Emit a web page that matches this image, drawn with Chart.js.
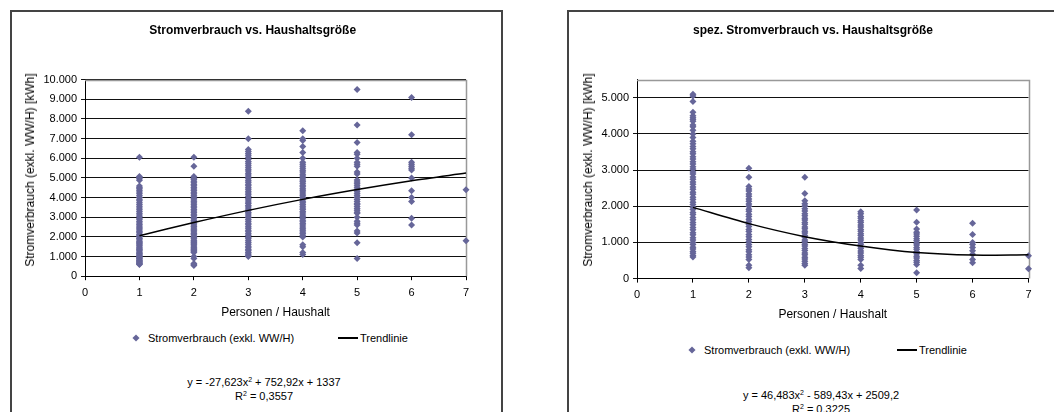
<!DOCTYPE html>
<html>
<head>
<meta charset="utf-8">
<script src="https://cdn.jsdelivr.net/npm/chart.js@4"></script>
<style>
  body { margin: 0; width: 1054px; height: 412px; overflow: hidden; background: #fff;
         font-family: "Liberation Sans", Arial, sans-serif; color: #000; position: relative; }
  .box { position: absolute; top: 10px; height: 420px; border: 2px solid #444; box-sizing: border-box; }
  canvas { position: absolute; }
  .ytitle { position: absolute; font-size: 12px; white-space: nowrap; line-height: 14px;
            transform: translate(-50%, -50%) rotate(-90deg); }
  .legend { position: absolute; font-size: 11px; line-height: 14px; white-space: nowrap; }
  .diamond { position: absolute; width: 5px; height: 5px; background: #666699; transform: translate(-50%, -50%) rotate(45deg); }
  .lline { position: absolute; height: 2px; background: #000; }
  .eq { position: absolute; font-size: 11px; line-height: 14px; white-space: nowrap; transform: translateX(-50%); text-align: center; }
  .eq sup { font-size: 7px; vertical-align: 4px; line-height: 0; }
</style>
</head>
<body>
<div class="box" style="left:10px; width:493px;"></div>
<div class="box" style="left:567px; width:500px;"></div>

<canvas id="chartLeft" width="488" height="310" style="left:12px; top:12px;"></canvas>
<canvas id="chartRight" width="485" height="312" style="left:569px; top:12px;"></canvas>

<div class="ytitle" style="left:30px; top:170px;">Stromverbrauch (exkl. WW/H) [kWh]</div>
<div class="ytitle" style="left:588px; top:170px;">Stromverbrauch (exkl. WW/H) [kWh]</div>

<!-- Legenden -->
<div class="diamond" style="left:136px; top:338px;"></div>
<div class="legend" style="left:148px; top:331px;">Stromverbrauch (exkl. WW/H)</div>
<div class="lline" style="left:338px; width:20px; top:337px;"></div>
<div class="legend" style="left:360px; top:331px;">Trendlinie</div>

<div class="diamond" style="left:692px; top:350px;"></div>
<div class="legend" style="left:704px; top:343px;">Stromverbrauch (exkl. WW/H)</div>
<div class="lline" style="left:897px; width:20px; top:349px;"></div>
<div class="legend" style="left:919px; top:343px;">Trendlinie</div>

<!-- Trendlinien-Gleichungen -->
<div class="eq" style="left:264px; top:375px;">y = -27,623x<sup>2</sup> + 752,92x + 1337<br>R<sup>2</sup> = 0,3557</div>
<div class="eq" style="left:821px; top:388px;">y = 46,483x<sup>2</sup> - 589,43x + 2509,2<br>R<sup>2</sup> = 0.3225</div>

<script>
// Personen pro Haushalt (x-Achse)
const personen = [1, 2, 3, 4, 5, 6, 7];
const xLabels = ['0', '1', '2', '3', '4', '5', '6', '7'];

// Stromverbrauch je Haushalt [kWh], gruppiert nach Haushaltsgröße
const strom1 = [600, 620, 650, 690, 720, 760, 790, 830, 870, 910, 950, 1000, 1040, 1090, 1140, 1180, 1230, 1290, 1340, 1380, 1440, 1490, 1550, 1600, 1660, 1720, 1770, 1840, 1900, 1950, 2020, 2080, 2140, 2210, 2270, 2350, 2410, 2490, 2560, 2630, 2710, 2790, 2870, 2950, 3030, 3120, 3200, 3290, 3380, 3470, 3560, 3650, 3740, 3840, 3920, 4010, 4100, 4190, 4290, 4370, 4450, 4520, 4590, 4880, 4960, 5020, 5070, 6050];
const strom2 = [550, 600, 650, 900, 1000, 1200, 1250, 1310, 1360, 1420, 1470, 1540, 1600, 1650, 1720, 1780, 1830, 1900, 1970, 2030, 2110, 2170, 2250, 2310, 2390, 2450, 2530, 2600, 2670, 2760, 2830, 2920, 2990, 3080, 3150, 3240, 3320, 3390, 3480, 3560, 3630, 3720, 3790, 3880, 3960, 4030, 4120, 4200, 4270, 4360, 4440, 4510, 4600, 4670, 4760, 4830, 4920, 4990, 5080, 5600, 6050];
const strom3 = [1000, 1060, 1130, 1200, 1290, 1360, 1450, 1530, 1620, 1720, 1800, 1900, 1980, 2080, 2160, 2260, 2340, 2440, 2520, 2620, 2700, 2800, 2880, 2980, 3060, 3160, 3240, 3340, 3420, 3520, 3600, 3700, 3780, 3880, 3960, 4060, 4140, 4240, 4320, 4420, 4500, 4600, 4680, 4780, 4860, 4960, 5050, 5150, 5240, 5350, 5440, 5550, 5640, 5750, 5840, 5950, 6050, 6150, 6250, 6350, 6450, 7000, 8400];
const strom4 = [1100, 1200, 1500, 1600, 2000, 2080, 2170, 2250, 2340, 2420, 2510, 2600, 2680, 2770, 2850, 2950, 3030, 3120, 3210, 3290, 3390, 3470, 3560, 3650, 3740, 3820, 3920, 4000, 4100, 4180, 4280, 4370, 4450, 4550, 4630, 4730, 4820, 4900, 5000, 5100, 5190, 5300, 5390, 5500, 5590, 5700, 5800, 6000, 6300, 6600, 6900, 7000, 7400];
const strom5 = [900, 1700, 2200, 2300, 2600, 2700, 2800, 3000, 3200, 3250, 3350, 3450, 3550, 3650, 3700, 3800, 3900, 4000, 4100, 4200, 4300, 4400, 4500, 4600, 4700, 4800, 4900, 5200, 5300, 5600, 5700, 5800, 6000, 6200, 6300, 6800, 7700, 9500];
const strom6 = [2600, 2950, 3800, 4000, 4350, 5000, 5400, 5500, 5600, 5700, 5800, 7200, 9100];
const strom7 = [1800, 4400];
const stromGruppen = [strom1, strom2, strom3, strom4, strom5, strom6, strom7];
const stromTrend = [2060, 2730, 3350, 3910, 4410, 4860, 5250];
const stromYLabels = ['0', '1.000', '2.000', '3.000', '4.000', '5.000', '6.000', '7.000', '8.000', '9.000', '10.000'];

// spezifischer Stromverbrauch [kWh], gruppiert nach Haushaltsgröße
const spez1 = [600, 640, 700, 750, 820, 870, 940, 1000, 1070, 1130, 1210, 1270, 1350, 1410, 1490, 1550, 1630, 1690, 1770, 1830, 1910, 1970, 2050, 2110, 2190, 2250, 2330, 2390, 2470, 2530, 2610, 2670, 2750, 2810, 2890, 2950, 3030, 3090, 3170, 3230, 3310, 3370, 3450, 3510, 3590, 3650, 3730, 3800, 3900, 4000, 4100, 4200, 4250, 4350, 4400, 4450, 4500, 4600, 4900, 5050, 5100];
const spez2 = [300, 370, 530, 600, 660, 740, 800, 880, 940, 1020, 1080, 1160, 1220, 1300, 1360, 1440, 1500, 1580, 1640, 1720, 1780, 1860, 1920, 2000, 2060, 2140, 2200, 2280, 2340, 2420, 2480, 2550, 2800, 3050];
const spez3 = [370, 420, 480, 540, 590, 660, 710, 780, 830, 900, 950, 1020, 1070, 1140, 1190, 1260, 1310, 1380, 1430, 1500, 1550, 1620, 1670, 1740, 1790, 1870, 1930, 2010, 2070, 2150, 2350, 2800];
const spez4 = [280, 370, 530, 590, 640, 710, 760, 830, 880, 950, 1000, 1070, 1120, 1190, 1240, 1310, 1360, 1430, 1480, 1550, 1600, 1670, 1720, 1790, 1850];
const spez5 = [160, 390, 450, 500, 570, 620, 690, 740, 810, 860, 930, 980, 1050, 1100, 1170, 1230, 1280, 1370, 1560, 1900];
const spez6 = [440, 530, 670, 770, 860, 940, 1000, 1220, 1530];
const spez7 = [270, 630];
const spezGruppen = [spez1, spez2, spez3, spez4, spez5, spez6, spez7];
const spezTrend = [1970, 1520, 1160, 900, 720, 650, 660];
const spezYLabels = ['0', '1.000', '2.000', '3.000', '4.000', '5.000'];

Chart.defaults.font.family = '"Liberation Sans", Arial, sans-serif';
Chart.defaults.color = '#000';

// grauer Rahmen oben und rechts um die Zeichenfläche
const frame = {
    id: 'frame',
    beforeDatasetsDraw(chart) {
        const a = chart.chartArea;
        const ctx = chart.ctx;
        ctx.save();
        ctx.strokeStyle = '#999';
        ctx.lineWidth = 1.5;
        ctx.beginPath();
        ctx.moveTo(a.left, Math.round(a.top) + 0.5);
        ctx.lineTo(Math.round(a.right) + 0.5, Math.round(a.top) + 0.5);
        ctx.lineTo(Math.round(a.right) + 0.5, a.bottom);
        ctx.stroke();
        ctx.restore();
    }
};

function makeChart(id, title, gruppen, trend, yMax, yLabels, pad) {
    const punkte = [];
    gruppen.forEach((werte, i) => {
        werte.forEach(v => punkte.push({ x: personen[i], y: v }));
    });

    new Chart(document.getElementById(id), {
        type: 'scatter',
        data: {
            datasets: [{
                label: 'Stromverbrauch (exkl. WW/H)',
                data: punkte,
                pointStyle: 'rectRot',
                pointRadius: 3.5,
                backgroundColor: '#666699',
                borderColor: '#666699',
                borderWidth: 0,
                clip: false,
                order: 2
            }, {
                type: 'line',
                label: 'Trendlinie',
                data: personen.map((p, i) => ({ x: p, y: trend[i] })),
                borderColor: '#000',
                borderWidth: 1.5,
                pointRadius: 0,
                tension: 0.3,
                clip: false,
                order: 1
            }]
        },
        options: {
            responsive: false,
            animation: false,
            devicePixelRatio: 1,
            layout: { padding: pad },
            plugins: {
                legend: { display: false },
                tooltip: { enabled: false },
                title: {
                    display: true,
                    text: title,
                    font: { size: 12, weight: 'bold' },
                    padding: { top: 11.8, bottom: 41.5 }
                }
            },
            scales: {
                x: {
                    type: 'linear',
                    min: 0,
                    max: 7,
                    ticks: { stepSize: 1, padding: 6, font: { size: 11 }, callback: v => xLabels[v] },
                    grid: { drawOnChartArea: false, color: '#000', tickLength: 4 },
                    border: { color: '#000', width: 1 },
                    title: { display: true, text: 'Personen / Haushalt', font: { size: 12 }, padding: { top: 0, bottom: 0 } }
                },
                y: {
                    min: 0,
                    max: yMax,
                    afterBuildTicks: scale => {
                        scale.ticks = yLabels.map((l, i) => ({ value: i * 1000 }));
                    },
                    ticks: { padding: 4, font: { size: 11 }, callback: v => yLabels[v / 1000] },
                    grid: { color: '#111', tickLength: 4 },
                    border: { color: '#000', width: 1 }
                }
            }
        },
        plugins: [frame]
    });
}

makeChart('chartLeft', 'Stromverbrauch vs. Haushaltsgröße', stromGruppen, stromTrend, 10000, stromYLabels,
    { left: 27.4, right: 34, top: 0, bottom: 2.2 });
makeChart('chartRight', 'spez. Stromverbrauch vs. Haushaltsgröße', spezGruppen, spezTrend, 5500, spezYLabels,
    { left: 28.5, right: 25.5, top: 0, bottom: 1.8 });
</script>
</body>
</html>
